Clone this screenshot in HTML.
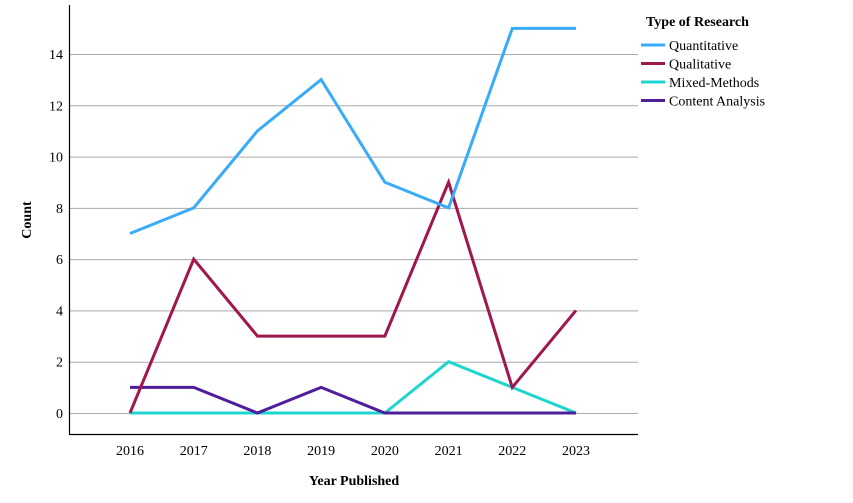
<!DOCTYPE html>
<html><head><meta charset="utf-8"><style>
body{margin:0;background:#fff;}
svg{display:block;font-family:"Liberation Serif",serif;}
</style></head><body>
<svg id="chart" width="853" height="503">
<g id="grid"></g>
<g id="series"></g>
<line x1="69.5" y1="5" x2="69.5" y2="434.5" stroke="#000" stroke-width="1.2"/>
<line x1="69" y1="434.5" x2="638" y2="434.5" stroke="#000" stroke-width="1.2"/>
<g id="yt"></g>
<g id="xt"></g>
<text x="31" y="220" transform="rotate(-90 31 220)" text-anchor="middle" font-size="14" font-weight="bold">Count</text>
<text x="354" y="485" text-anchor="middle" font-size="14" font-weight="bold">Year Published</text>
<text x="646" y="26" font-size="14" font-weight="bold">Type of Research</text>
<g id="legend"></g>
</svg>
<script>
const years=["2016","2017","2018","2019","2020","2021","2022","2023"];
const quantitative=[7,8,11,13,9,8,15,15];
const qualitative=[0,6,3,3,3,9,1,4];
const mixedMethods=[0,0,0,0,0,2,1,0];
const contentAnalysis=[1,1,0,1,0,0,0,0];
const yTicks=[0,2,4,6,8,10,12,14];
const seriesNames=["Quantitative","Qualitative","Mixed-Methods","Content Analysis"];
const colors=["#3aabf8","#a0174e","#1fd5d0","#4f1e9a"];
const NS="http://www.w3.org/2000/svg";
function xs(i){return 130+i*(576-130)/7;}
function ys(v){return 413-v*(413-54)/14;}
function mk(t,a,p){const e=document.createElementNS(NS,t);for(const k in a)e.setAttribute(k,a[k]);p.appendChild(e);return e;}
const grid=document.getElementById('grid'),yt=document.getElementById('yt'),xt=document.getElementById('xt');
yTicks.forEach(v=>{
 const l=mk('line',{x1:69,x2:638,y1:ys(v)+0.5,y2:ys(v)+0.5,stroke:'#aaa','stroke-width':1},grid);
 
 
 const t=mk('text',{x:63,y:ys(v)+5,'text-anchor':'end','font-size':14},yt);t.textContent=v;
 
 
});
years.forEach((y,i)=>{
 const t=mk('text',{x:xs(i),y:455,'text-anchor':'middle','font-size':14},xt);t.textContent=y;
 
 
});
const all=[quantitative,qualitative,mixedMethods,contentAnalysis];
const sg=document.getElementById('series');
[2,3,1,0].forEach(k=>{
 const d=all[k].map((v,i)=>(i?'L':'M')+xs(i)+' '+ys(v)).join(' ');
 const p=mk('path',{d:d,fill:'none',stroke:colors[k],'stroke-width':3,'stroke-linejoin':'miter'},sg);
 
 
});
const lg=document.getElementById('legend');
seriesNames.forEach((n,k)=>{
 const y=45+k*18.5;
 const g=mk('g',{},lg);
 
 
 mk('line',{x1:641,x2:665,y1:y,y2:y,stroke:colors[k],'stroke-width':3},g);
 const t=mk('text',{x:669,y:y+5,'font-size':14},g);t.textContent=n;
});
</script>
</body></html>
